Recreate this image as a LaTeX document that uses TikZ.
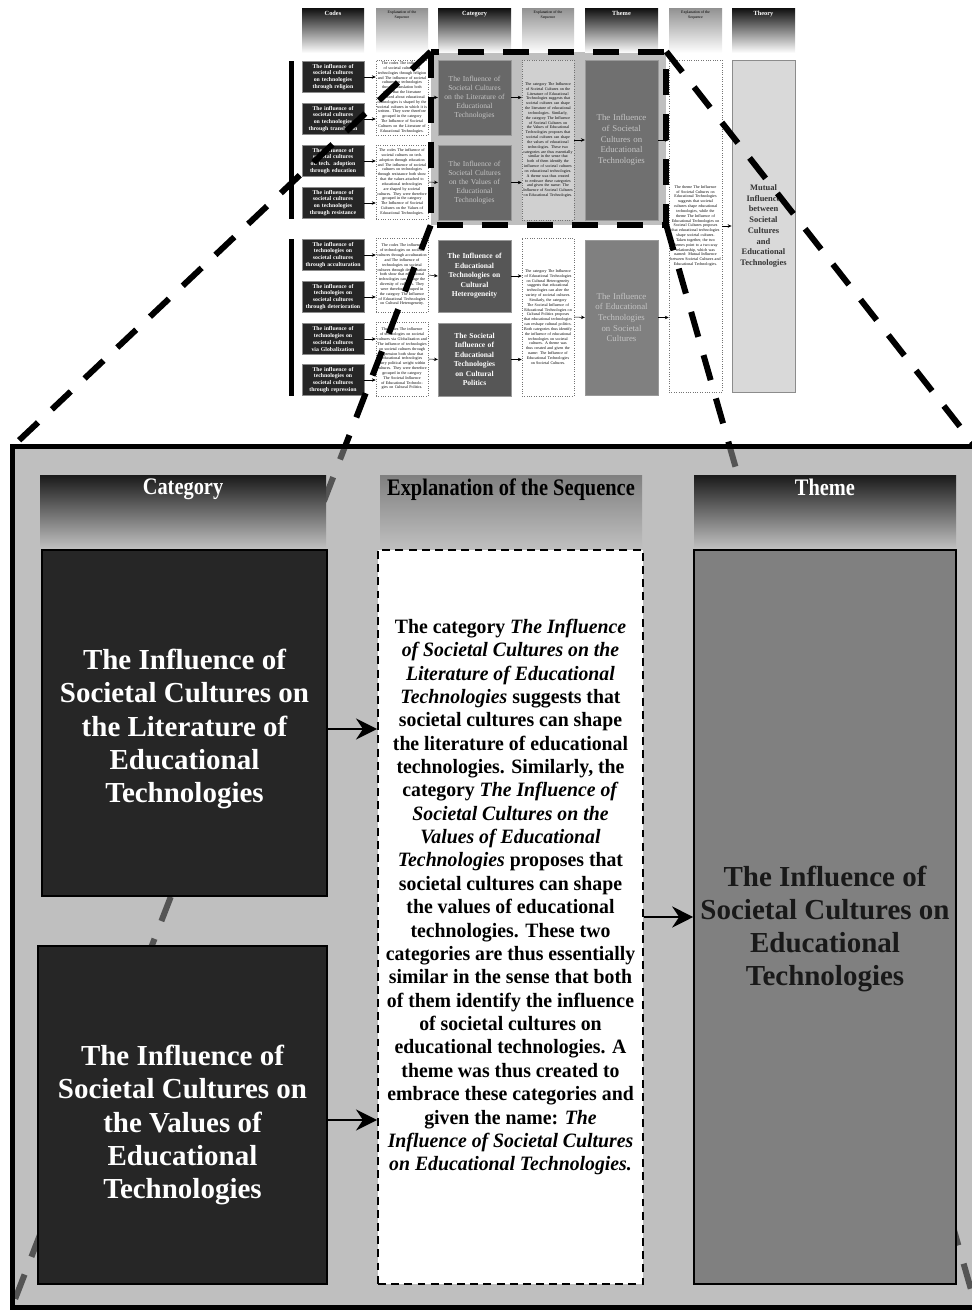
\documentclass[tikz,border=0pt]{standalone}
\usepackage{fontspec}
\setmainfont{Liberation Serif}
\newfontfamily\narrowserif{Liberation Serif}[FakeStretch=0.86]
\newfontfamily\seqserif{Liberation Serif}[FakeStretch=0.97]
\usepackage{xcolor}
\usepackage{tikz}
\usetikzlibrary{arrows.meta, positioning, calc}

\definecolor{framegray}{RGB}{191,191,191}
\definecolor{veilgray}{RGB}{145,145,145}
\definecolor{darkbox}{RGB}{38,38,38}
\definecolor{catupper}{RGB}{104,104,104}
\definecolor{catlower}{RGB}{86,86,86}
\definecolor{themeupper}{RGB}{112,112,112}
\definecolor{themegray}{RGB}{128,128,128}
\definecolor{theorygray}{RGB}{217,217,217}
\definecolor{seqgray}{RGB}{208,208,208}
\definecolor{paletext}{RGB}{196,196,196}

\newdimen\pxu
\pxu=0.02cm

\begin{document}
\begin{tikzpicture}[x=0.02cm, y=-0.02cm,
        % thumbnail of the whole sequence
        headdark/.style={minimum width=#1\pxu, minimum height=44\pxu, inner sep=0pt,
            top color=black!92, bottom color=white},
        headlight/.style={minimum width=#1\pxu, minimum height=44\pxu, inner sep=0pt,
            top color=black!42, bottom color=white},
        headtext/.style={inner sep=0pt, text=white, font=\fontsize{3.6}{4.2}\selectfont\bfseries},
        headtextsm/.style={inner sep=0pt, align=center, font=\fontsize{2.2}{2.5}\selectfont},
        codebox/.style={fill=darkbox, draw=black!45, line width=0.2pt,
            minimum width=62\pxu, minimum height=31\pxu, inner sep=0pt,
            text width=58\pxu, align=center, text=white,
            font=\fontsize{3.3}{3.9}\selectfont\bfseries},
        codebar/.style={fill=black, inner sep=0pt, minimum width=5\pxu},
        seqbox/.style={draw=black!55, densely dotted, line width=0.35pt, fill=white,
            minimum width=52\pxu, inner sep=0pt, text width=50\pxu, align=center,
            font=\fontsize{2.3}{2.75}\selectfont},
        catsmall/.style={draw=black!40, line width=0.2pt, minimum width=73\pxu,
            inner sep=0pt, text width=71\pxu, align=center},
        themesmall/.style={draw=black!40, line width=0.2pt, minimum width=73\pxu,
            inner sep=0pt, text width=71\pxu, align=center, text=paletext,
            font=\fontsize{5}{6.1}\selectfont},
        tinyarrow/.style={-{Stealth[length=2.2pt, width=2pt]}, line width=0.3pt},
        zoomline/.style={line width=6\pxu, dash pattern=on 26\pxu off 19\pxu},
        % enlarged part
        bighead/.style={minimum width=#1\pxu, minimum height=73\pxu, inner sep=0pt,
            top color=black!90, bottom color=framegray},
        bigheadlight/.style={minimum width=#1\pxu, minimum height=73\pxu, inner sep=0pt,
            top color=black!50, bottom color=framegray},
        bigtitle/.style={inner sep=0pt, font=\narrowserif\fontsize{13.5}{15}\selectfont\bfseries},
        catbox/.style={fill=darkbox, draw=black, line width=0.7pt, inner sep=0pt},
        bigtext/.style={inner sep=0pt, align=center, font=\fontsize{16.5}{18.9}\selectfont\bfseries},
        seqmain/.style={fill=white, draw=black, line width=1.1pt,
            dash pattern=on 4.5pt off 3pt, minimum width=265\pxu, minimum height=734\pxu},
        themebox/.style={fill=themegray, draw=black, line width=0.9pt, inner sep=0pt,
            minimum width=262\pxu, minimum height=734\pxu},
        bigarrow/.style={-{Stealth[length=12pt, width=12pt, inset=4pt]}, line width=1.1pt},
    ]
    \useasboundingbox (0,0) rectangle (972,1310);

    % Highlighted part of the thumbnail
    \node[fill=framegray, inner sep=0pt, minimum width=235\pxu, minimum height=173\pxu] (zoomArea) at (548.5,138.5) {};

    % Column heads
    \node[headdark=62] (hCodes) at (333,31) {};
    \node[headlight=52] (hSeqA) at (402,31) {};
    \node[headdark=73] (hCat) at (474.5,31) {};
    \node[headlight=52] (hSeqB) at (548,31) {};
    \node[headdark=73] (hTheme) at (621.5,31) {};
    \node[headlight=53] (hSeqC) at (695.5,31) {};
    \node[headdark=63] (hTheory) at (763.5,31) {};
    \node[headtext, below=2\pxu of hCodes.north] (tCodes) {Codes};
    \node[headtextsm, below=2\pxu of hSeqA.north] (tSeqA) {Explanation of the\\Sequence};
    \node[headtext, below=2\pxu of hCat.north] (tCat) {Category};
    \node[headtextsm, below=2\pxu of hSeqB.north] (tSeqB) {Explanation of the\\Sequence};
    \node[headtext, below=2\pxu of hTheme.north] (tTheme) {Theme};
    \node[headtextsm, below=2\pxu of hSeqC.north] (tSeqC) {Explanation of the\\Sequence};
    \node[headtext, below=2\pxu of hTheory.north] (tTheory) {Theory};

    % Codes
    \node[codebar, minimum height=158\pxu] (barA) at (291,140) {};
    \node[codebar, minimum height=157\pxu] (barB) at (291,317.5) {};
    \node[codebox] (cA1) at (333,77) {The influence of societal cultures on technologies through religion};
    \node[codebox] (cA2) at (333,119) {The influence of societal cultures on technologies through translation};
    \node[codebox] (cA3) at (333,161) {The influence of societal cultures on tech. adoption through education};
    \node[codebox] (cA4) at (333,203) {The influence of societal cultures on technologies through resistance};
    \node[codebox] (cB1) at (333,255) {The influence of technologies on societal cultures through acculturation};
    \node[codebox] (cB2) at (333,297) {The influence of technologies on societal cultures through deterioration};
    \node[codebox] (cB3) at (333,339) {The influence of technologies on societal cultures via Globalization};
    \node[codebox] (cB4) at (333,380) {The influence of technologies on societal cultures through repression};

    % Explanations of the codes
    \node[seqbox, minimum height=75\pxu] (eA1) at (402,97.5) {The codes The influence of societal cultures on technologies through religion and The influence of societal cultures on technologies through translation both show that the literature produced about educational technologies is shaped by the societal cultures in which it is written. They were therefore grouped in the category The Influence of Societal Cultures on the Literature of Educational Technologies.};
    \node[seqbox, minimum height=74\pxu] (eA2) at (402,182) {The codes The influence of societal cultures on tech. adoption through education and The influence of societal cultures on technologies through resistance both show that the values attached to educational technologies are shaped by societal cultures. They were therefore grouped in the category The Influence of Societal Cultures on the Values of Educational Technologies.};
    \node[seqbox, minimum height=74\pxu] (eB1) at (402,275) {The codes The influence of technologies on societal cultures through acculturation and The influence of technologies on societal cultures through deterioration both show that educational technologies can change the diversity of cultures. They were therefore grouped in the category The Influence of Educational Technologies on Cultural Heterogeneity.};
    \node[seqbox, minimum height=74\pxu] (eB2) at (402,359) {The codes The influence of technologies on societal cultures via Globalization and The influence of technologies on societal cultures through repression both show that educational technologies carry political weight within cultures. They were therefore grouped in the category The Societal Influence of Educational Technologies on Cultural Politics.};

    % Categories
    \node[catsmall, fill=catupper, minimum height=75\pxu, text=paletext, font=\fontsize{4.3}{5.2}\selectfont] (kA1) at (474.5,97.5) {The Influence of\\Societal Cultures\\on the Literature of\\Educational\\Technologies};
    \node[catsmall, fill=catupper, minimum height=75\pxu, text=paletext, font=\fontsize{4.3}{5.2}\selectfont] (kA2) at (474.5,182.5) {The Influence of\\Societal Cultures\\on the Values of\\Educational\\Technologies};
    \node[catsmall, fill=catlower, minimum height=72\pxu, text=white, font=\fontsize{4.3}{5.4}\selectfont\bfseries] (kB1) at (474.5,276) {The Influence of\\Educational\\Technologies on\\Cultural\\Heterogeneity};
    \node[catsmall, fill=catlower, minimum height=73\pxu, text=white, font=\fontsize{4.3}{5.4}\selectfont\bfseries] (kB2) at (474.5,359.5) {The Societal\\Influence of\\Educational\\Technologies\\on Cultural\\Politics};

    % Explanations of the categories
    \node[seqbox, fill=seqgray, minimum height=160\pxu] (fA) at (548,140) {The category The Influence of Societal Cultures on the Literature of Educational Technologies suggests that societal cultures can shape the literature of educational technologies. Similarly, the category The Influence of Societal Cultures on the Values of Educational Technologies proposes that societal cultures can shape the values of educational technologies. These two categories are thus essentially similar in the sense that both of them identify the influence of societal cultures on educational technologies. A theme was thus created to embrace these categories and given the name: The Influence of Societal Cultures on Educational Technologies.};
    \node[seqbox, minimum height=158\pxu] (fB) at (548,317) {The category The Influence of Educational Technologies on Cultural Heterogeneity suggests that educational technologies can alter the variety of societal cultures. Similarly, the category The Societal Influence of Educational Technologies on Cultural Politics proposes that educational technologies can reshape cultural politics. Both categories thus identify the influence of educational technologies on societal cultures. A theme was thus created and given the name: The Influence of Educational Technologies on Societal Cultures.};

    % Themes
    \node[themesmall, fill=themeupper, minimum height=160\pxu] (tA) at (621.5,140) {The Influence\\of Societal\\Cultures on\\Educational\\Technologies};
    \node[themesmall, fill=themegray, minimum height=155\pxu] (tB) at (621.5,317.5) {The Influence\\of Educational\\Technologies\\on Societal\\Cultures};

    % Explanation of the themes
    \node[seqbox, minimum width=53\pxu, text width=51\pxu, minimum height=332\pxu] (eC) at (695.5,226) {The theme The Influence of Societal Cultures on Educational Technologies suggests that societal cultures shape educational technologies, while the theme The Influence of Educational Technologies on Societal Cultures proposes that educational technologies shape societal cultures. Taken together, the two themes point to a two-way relationship, which was named: Mutual Influence between Societal Cultures and Educational Technologies.};

    % Theory
    \node[fill=theorygray, draw=black!45, line width=0.5pt, minimum width=63\pxu, minimum height=332\pxu, inner sep=0pt, align=center, text=black!80, font=\fontsize{4.8}{6.1}\selectfont\bfseries] (theory) at (763.5,226) {Mutual\\Influence\\between\\Societal\\Cultures\\and\\Educational\\Technologies};

    % Thumbnail arrows
    \draw[tinyarrow] (cA1.east) -- (cA1.east -| eA1.west);
    \draw[tinyarrow] (cA2.east) -- (cA2.east -| eA1.west);
    \draw[tinyarrow] (cA3.east) -- (cA3.east -| eA2.west);
    \draw[tinyarrow] (cA4.east) -- (cA4.east -| eA2.west);
    \draw[tinyarrow] (cB1.east) -- (cB1.east -| eB1.west);
    \draw[tinyarrow] (cB2.east) -- (cB2.east -| eB1.west);
    \draw[tinyarrow] (cB3.east) -- (cB3.east -| eB2.west);
    \draw[tinyarrow] (cB4.east) -- (cB4.east -| eB2.west);
    \draw[tinyarrow] (eA1.east) -- (kA1.west);
    \draw[tinyarrow] (eA2.east) -- (kA2.west);
    \draw[tinyarrow] (eB1.east) -- (kB1.west);
    \draw[tinyarrow] (eB2.east) -- (kB2.west);
    \draw[tinyarrow] (kA1.east) -- (kA1.east -| fA.west);
    \draw[tinyarrow] (kA2.east) -- (kA2.east -| fA.west);
    \draw[tinyarrow] (kB1.east) -- (kB1.east -| fB.west);
    \draw[tinyarrow] (kB2.east) -- (kB2.east -| fB.west);
    \draw[tinyarrow] (fA.east) -- (tA.west);
    \draw[tinyarrow] (fB.east) -- (tB.west);
    \draw[tinyarrow] (tA.east) -- (tA.east -| eC.west);
    \draw[tinyarrow] (tB.east) -- (tB.east -| eC.west);
    \draw[tinyarrow] (eC.east) -- (theory.west);

    % Zoom lines
    \coordinate (bigNW) at (12,447);
    \coordinate (bigNE) at (976,447);
    \coordinate (bigSW) at (12,1307);
    \coordinate (bigSE) at (976,1307);
    \draw[zoomline] (zoomArea.north west) rectangle (zoomArea.south east);
    \draw[zoomline] (zoomArea.north west) -- (bigNW);
    \draw[zoomline] (zoomArea.north east) -- (bigNE);
    \draw[zoomline] (zoomArea.south west) -- (bigSW);
    \draw[zoomline] (zoomArea.south east) -- (bigSE);

    % Enlarged part
    \node[draw=black, line width=5\pxu, fill=veilgray, fill opacity=0.584, inner sep=0pt,
          minimum width=964\pxu, minimum height=860\pxu] (bigFrame) at (494,877) {};

    \node[bighead=286] (hCatBig) at (183,511.5) {};
    \node[bigheadlight=262] (hSeqBig) at (511,511.5) {};
    \node[bighead=262] (hThemeBig) at (825,511.5) {};
    \node[bigtitle, text=white, below=4\pxu of hCatBig.north] (tCatBig) {Category};
    \node[bigtitle, text=black, below=4\pxu of hSeqBig.north] (tSeqBig) {Explanation of the Sequence};
    \node[bigtitle, text=white, below=4\pxu of hThemeBig.north] (tThemeBig) {Theme};

    \node[catbox, minimum width=285\pxu, minimum height=346\pxu] (catOne) at (184.5,723) {};
    \node[bigtext, text=white] (catOneText) at (184.5,729)
        {The Influence of\\Societal Cultures on\\the Literature of\\Educational\\Technologies};
    \node[catbox, minimum width=289\pxu, minimum height=338\pxu] (catTwo) at (182.5,1115) {};
    \node[bigtext, text=white] (catTwoText) at (182.5,1125)
        {The Influence of\\Societal Cultures on\\the Values of\\Educational\\Technologies};
    \node[seqmain] (seqMain) at (510.5,917) {};
    \node[inner sep=0pt, align=center, font=\seqserif\fontsize{11.6}{13.3}\selectfont\bfseries] (seqText) at (510.5,897)
        {The category \textit{The Influence}\\
         \textit{of Societal Cultures on the}\\
         \textit{Literature of Educational}\\
         \textit{Technologies} suggests that\\
         societal cultures can shape\\
         the literature of educational\\
         technologies. Similarly, the\\
         category \textit{The Influence of}\\
         \textit{Societal Cultures on the}\\
         \textit{Values of Educational}\\
         \textit{Technologies} proposes that\\
         societal cultures can shape\\
         the values of educational\\
         technologies. These two\\
         categories are thus essentially\\
         similar in the sense that both\\
         of them identify the influence\\
         of societal cultures on\\
         educational technologies. A\\
         theme was thus created to\\
         embrace these categories and\\
         given the name: \textit{The}\\
         \textit{Influence of Societal Cultures}\\
         \textit{on Educational Technologies.}};
    \node[themebox] (themeMain) at (825,917) {};
    \node[bigtext, text=black!90] (themeText) at (825,929)
        {The Influence of\\Societal Cultures on\\Educational\\Technologies};

    % Arrows
    \draw[bigarrow] (catOne.east |- catOneText.center) -- (seqMain.west |- catOneText.center);
    \draw[bigarrow] (catTwo.east |- 0,1120) -- (seqMain.west |- 0,1120);
    \draw[bigarrow] (seqMain.east) -- (themeMain.west);

\end{tikzpicture}
\end{document}
